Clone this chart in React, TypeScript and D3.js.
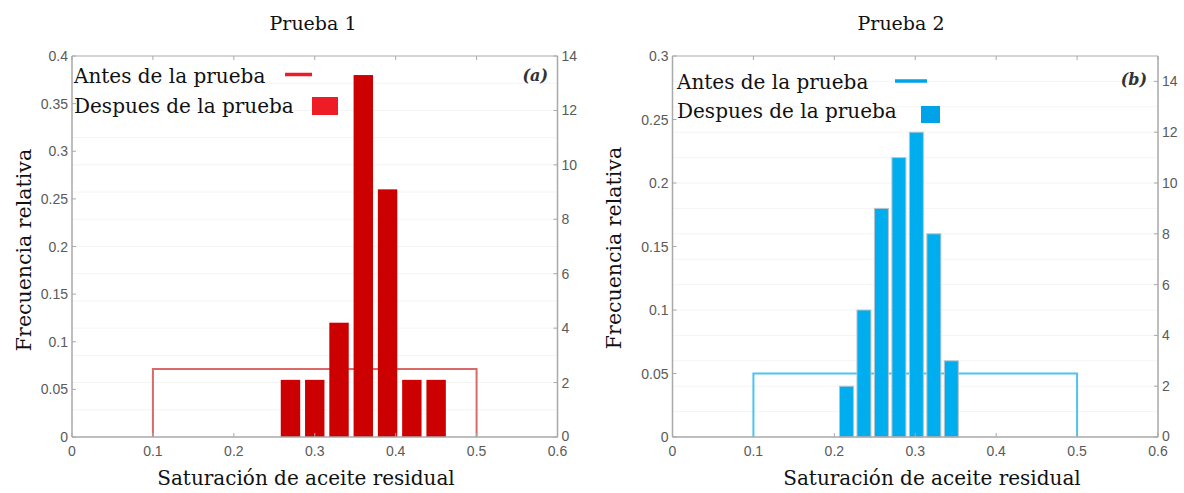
import React from "react";
import * as d3 from "d3";

// ---------- data ----------
const xTicks = [0, 0.1, 0.2, 0.3, 0.4, 0.5, 0.6];
const titles = ["Prueba 1", "Prueba 2"];
const panelTags = ["(a)", "(b)"];
const legendLabels = ["Antes de la prueba", "Despues de la prueba"];
const xLabel = "Saturación de aceite residual";
const yLabel = "Frecuencia relativa";

// Prueba 1 – histogram after test (relative frequency)
const bins1 = [0.27, 0.3, 0.33, 0.36, 0.39, 0.42, 0.45];
const freq1 = [0.06, 0.06, 0.12, 0.38, 0.26, 0.06, 0.06];
const binWidth1 = 0.03;
const yLeftTicks1 = [0, 0.05, 0.1, 0.15, 0.2, 0.25, 0.3, 0.35, 0.4];
const yRightTicks1 = [0, 2, 4, 6, 8, 10, 12, 14];

// Prueba 2
const bins2 = [0.215, 0.2366, 0.2582, 0.2798, 0.3014, 0.323, 0.3446];
const freq2 = [0.04, 0.1, 0.18, 0.22, 0.24, 0.16, 0.06];
const binWidth2 = 0.0216;
const yLeftTicks2 = [0, 0.05, 0.1, 0.15, 0.2, 0.25, 0.3];
const yRightTicks2 = [0, 2, 4, 6, 8, 10, 12, 14];

// "Antes de la prueba": uniform density on [0.1, 0.5]
const antesRange = [0.1, 0.5];
const antesDensity = 2.5;

const panels = [
  {
    bins: bins1, freq: freq1, bw: binWidth1,
    yLeftMax: 0.4, yRightMax: 14,
    yLeftTicks: yLeftTicks1, yRightTicks: yRightTicks1,
    x0: 72, x1: 557.5,
    barFill: "#cc0000", barStroke: "none",
    lineColor: "#d96a6a", legLineColor: "#ee1c25", legSq: "#ee1c25",
    title: titles[0], titleX: 313, tag: panelTags[0], tagX: 548, tagY: 81,
    xLabelX: 306, yLabelX: 31, yLabelY: 250,
    legX: 74, legY1: 83, legY2: 113,
    legLine: [285, 312, 74.5], legSqBox: [312, 97, 26, 18],
  },
  {
    bins: bins2, freq: freq2, bw: binWidth2,
    yLeftMax: 0.3, yRightMax: 15,
    yLeftTicks: yLeftTicks2, yRightTicks: yRightTicks2,
    x0: 672.5, x1: 1158,
    barFill: "#00aeef", barStroke: "#b8c4cc",
    lineColor: "#4cc4f0", legLineColor: "#00a2e8", legSq: "#00a2e8",
    title: titles[1], titleX: 901, tag: panelTags[1], tagX: 1147, tagY: 85,
    xLabelX: 932, yLabelX: 621, yLabelY: 248,
    legX: 677, legY1: 89, legY2: 118,
    legLine: [895, 927, 81], legSqBox: [921, 106, 19, 17],
  },
];

const TOP = 56;
const BOTTOM = 437;
const AXIS = "#a9a9a9";
const TICKTXT = "#5a5a5a";
const SERIF = "'DejaVu Serif', serif";
const SANS = "'Liberation Sans', Arial, sans-serif";

function Panel({ p }: { p: any }) {
  const x = d3.scaleLinear().domain([0, 0.6]).range([p.x0, p.x1]);
  const yL = d3.scaleLinear().domain([0, p.yLeftMax]).range([BOTTOM, TOP]);
  const yR = d3.scaleLinear().domain([0, p.yRightMax]).range([BOTTOM, TOP]);
  const antes = d3.line<[number, number]>().x((d) => x(d[0])).y((d) => yR(d[1]))([
    [antesRange[0], 0],
    [antesRange[0], antesDensity],
    [antesRange[1], antesDensity],
    [antesRange[1], 0],
  ]);
  const gridVals = d3.range(1, Math.floor(p.yRightMax) + 1);
  const tick = 4;
  return (
    <g>
      {gridVals.map((v) => (
        <line key={"g" + v} x1={p.x0} x2={p.x1} y1={yR(v)} y2={yR(v)} stroke="#f4f4f4" strokeWidth={1} />
      ))}
      <path d={antes || ""} fill="none" stroke={p.lineColor} strokeWidth={2} />
      {p.bins.map((c: number, i: number) => {
        const w = p.bw * 0.8;
        return (
          <rect key={"b" + i} x={x(c - w / 2)} y={yL(p.freq[i])} width={x(c + w / 2) - x(c - w / 2)}
            height={BOTTOM - yL(p.freq[i])} fill={p.barFill} stroke={p.barStroke} strokeWidth={1} />
        );
      })}
      <line x1={p.x0} x2={p.x1} y1={TOP} y2={TOP} stroke="#c8c8c8" strokeWidth={1.5} />
      <line x1={p.x0} x2={p.x1} y1={BOTTOM} y2={BOTTOM} stroke={AXIS} strokeWidth={1.5} />
      <line x1={p.x0} x2={p.x0} y1={TOP} y2={BOTTOM} stroke={AXIS} strokeWidth={1.5} />
      <line x1={p.x1} x2={p.x1} y1={TOP} y2={BOTTOM} stroke={AXIS} strokeWidth={1.5} />
      {xTicks.map((t) => (
        <g key={"xt" + t}>
          <line x1={x(t)} x2={x(t)} y1={BOTTOM} y2={BOTTOM - tick} stroke={AXIS} />
          <line x1={x(t)} x2={x(t)} y1={TOP} y2={TOP + tick} stroke={AXIS} />
          <text x={x(t)} y={456} textAnchor="middle" fontFamily={SANS} fontSize={14} fill={TICKTXT}>
            {String(t)}
          </text>
        </g>
      ))}
      {p.yLeftTicks.map((t: number) => (
        <g key={"yl" + t}>
          <line x1={p.x0} x2={p.x0 + tick} y1={yL(t)} y2={yL(t)} stroke={AXIS} />
          <text x={p.x0 - 4} y={yL(t) + 5} textAnchor="end" fontFamily={SANS} fontSize={14} fill={TICKTXT}>
            {String(t)}
          </text>
        </g>
      ))}
      {p.yRightTicks.map((t: number) => (
        <g key={"yr" + t}>
          <line x1={p.x1} x2={p.x1 - tick} y1={yR(t)} y2={yR(t)} stroke={AXIS} />
          <text x={p.x1 + 4} y={yR(t) + (t === 0 ? 4 : 5)} textAnchor="start" fontFamily={SANS} fontSize={14} fill={TICKTXT}>
            {String(t)}
          </text>
        </g>
      ))}
      <text x={p.titleX} y={30} textAnchor="middle" fontFamily={SERIF} fontSize={19} fill="#111">{p.title}</text>
      <text x={p.xLabelX} y={485} textAnchor="middle" fontFamily={SERIF} fontSize={20} fill="#111">{xLabel}</text>
      <text transform={`translate(${p.yLabelX},${p.yLabelY}) rotate(-90)`} textAnchor="middle" fontFamily={SERIF}
        fontSize={20.5} fill="#111">{yLabel}</text>
      <text x={p.tagX} y={p.tagY} textAnchor="end" fontFamily={SERIF} fontSize={16} fontStyle="italic"
        fontWeight="bold" fill="#333">{p.tag}</text>
      <text x={p.legX} y={p.legY1} fontFamily={SERIF} fontSize={20} fill="#111">{legendLabels[0]}</text>
      <text x={p.legX} y={p.legY2} fontFamily={SERIF} fontSize={20} fill="#111">{legendLabels[1]}</text>
      <line x1={p.legLine[0]} x2={p.legLine[1]} y1={p.legLine[2]} y2={p.legLine[2]} stroke={p.legLineColor} strokeWidth={3.5} />
      <rect x={p.legSqBox[0]} y={p.legSqBox[1]} width={p.legSqBox[2]} height={p.legSqBox[3]} fill={p.legSq} />
    </g>
  );
}

export default function App() {
  return (
    <svg width={1184} height={493} style={{ position: "absolute", left: 0, top: 0, background: "#fff" }}>
      <rect x={0} y={0} width={1184} height={493} fill="#fff" />
      {panels.map((p, i) => (
        <Panel key={i} p={p} />
      ))}
    </svg>
  );
}
